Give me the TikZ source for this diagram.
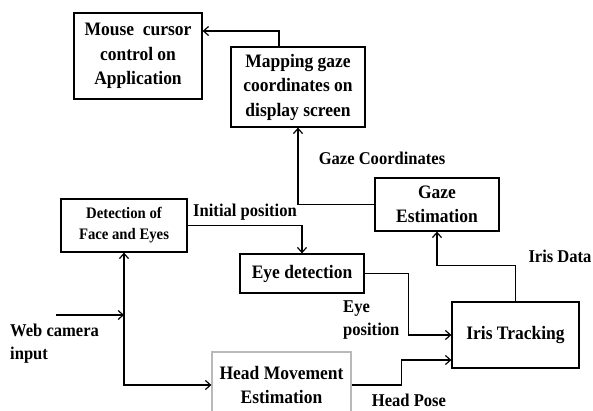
\documentclass[tikz,border=0pt]{standalone}
\usepackage{fontspec}
\setmainfont{Liberation Serif}[FakeStretch=0.92]
\usepackage{tikz}
\usetikzlibrary{arrows.meta,calc}
\tikzstyle{blk}=[draw, line width=1.3pt, align=center, inner sep=0pt, font=\fontsize{19}{24.5}\selectfont\bfseries]
\tikzstyle{lbl}=[inner sep=0pt, align=left, font=\fontsize{18}{23}\selectfont\bfseries]
\tikzstyle{arr}=[line width=1.3pt, -{Straight Barb[length=5pt,width=9pt,line width=1.2pt]}]

\begin{document}
\begin{tikzpicture}[x=1pt,y=-1pt]
\clip (0,0) rectangle (593,411);
\node[blk, minimum width=128, minimum height=86] (mouse) at (138,56) {Mouse\ \ cursor\\control on\\Application};
\node[blk, minimum width=134, minimum height=80] (map) at (298,87) {Mapping gaze\\coordinates on\\display screen};
\node[blk, minimum width=124, minimum height=53] (gaze) at (437,204.5) {Gaze\\Estimation};
\node[blk, minimum width=126, minimum height=53, font=\fontsize{16}{21}\selectfont\bfseries] (det) at (124,225.5) {Detection of\\Face and Eyes};
\node[blk, minimum width=124, minimum height=39] (eye) at (302,273.5) {Eye detection};
\node[blk, minimum width=127, minimum height=66] (iris) at (515.5,335) {Iris Tracking};
\node[blk, draw=gray!55, minimum width=139, minimum height=66] (head) at (281.5,385) {Head Movement\\Estimation};
\coordinate (cam) at (56,315);
\coordinate (jn) at (124,315);
% connectors
\draw[arr] ([xshift=-19pt]map.north) |- ([yshift=25pt]mouse.east);
\draw[arr] (gaze.west) -| (map.south);
\draw[arr] (det.east) -| (eye.north);
\draw[arr] (eye.east) -- ++(44,0) |- (iris.west);
\draw[arr] (iris.north) -- ++(0,-36) -| (gaze.south);
\draw[arr] (head.east) -- ++(50,0) |- ([yshift=-25pt]iris.west);
\draw[arr] (cam) -- (jn);
\draw[arr, {Straight Barb[length=5pt,width=9pt,line width=1.2pt]}-{Straight Barb[length=5pt,width=9pt,line width=1.2pt]}] (det.south) |- (head.west);
% labels
\node[lbl] (lgc) at (382,158) {Gaze Coordinates};
\node[lbl] (lip) at (245,212) {Initial position};
\node[lbl] (lid) at (560,256) {Iris Data};
\node[lbl, anchor=west] (lep) at (343,320) {Eye\\position};
\node[lbl] (lhp) at (409,400) {Head Pose};
\node[lbl, anchor=west] (lwc) at (10,344) {Web camera\\input};
\end{tikzpicture}
\end{document}
